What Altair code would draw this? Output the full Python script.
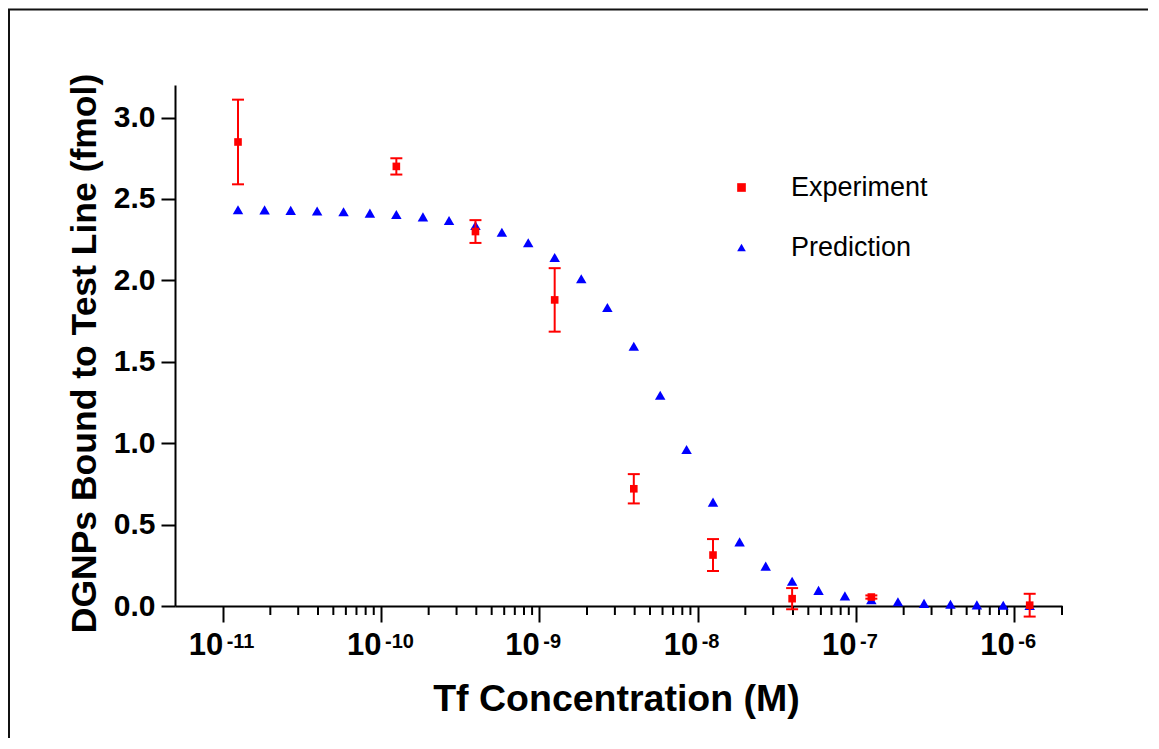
import altair as alt
import pandas as pd

# ---------------- data ----------------
pred_x = [1.25e-11, 1.84e-11, 2.69e-11, 3.95e-11, 5.80e-11, 8.51e-11,
          1.25e-10, 1.84e-10, 2.69e-10, 3.95e-10, 5.80e-10, 8.51e-10,
          1.25e-9, 1.84e-9, 2.69e-9, 3.95e-9, 5.80e-9, 8.51e-9,
          1.25e-8, 1.84e-8, 2.69e-8, 3.95e-8, 5.80e-8, 8.51e-8,
          1.25e-7, 1.84e-7, 2.69e-7, 3.95e-7, 5.80e-7, 8.51e-7,
          1.25e-6]
pred_y = [2.434, 2.433, 2.430, 2.426, 2.421, 2.413,
          2.405, 2.390, 2.368, 2.337, 2.296, 2.231,
          2.141, 2.010, 1.833, 1.595, 1.294, 0.961,
          0.638, 0.394, 0.245, 0.152, 0.096, 0.062,
          0.038, 0.026, 0.016, 0.011, 0.007, 0.005,
          0.003]

exp_x = [1.25e-11, 1.25e-10, 3.95e-10, 1.25e-9, 3.95e-9, 1.25e-8, 3.95e-8, 1.25e-7, 1.25e-6]
exp_y = [2.85, 2.70, 2.30, 1.88, 0.72, 0.313, 0.045, 0.055, 0.005]
exp_err = [0.26, 0.05, 0.07, 0.195, 0.09, 0.098, 0.065, 0.01, 0.07]

series_names = ["Experiment", "Prediction"]
series_colors = ["#ff0000", "#0000ff"]
series_shapes = ["square", "triangle-up"]

major_ticks = [1e-11, 1e-10, 1e-9, 1e-8, 1e-7, 1e-6]
major_exponents = ["-11", "-10", "-9", "-8", "-7", "-6"]
minor_mult = [2, 3, 4, 5, 6, 7, 8, 9]
minor_decades = [1e-11, 1e-10, 1e-9, 1e-8, 1e-7]
minor_ticks = [m * d for d in minor_decades for m in minor_mult] + [2e-6]

y_ticks = [0.0, 0.5, 1.0, 1.5, 2.0, 2.5, 3.0]

x_title = "Tf Concentration (M)"
y_title = "DGNPs Bound to Test Line (fmol)"

# ---------------- tables ----------------
pred_df = pd.DataFrame({"x": pred_x, "y": pred_y, "series": "Prediction"})
exp_df = pd.DataFrame({"x": exp_x, "y": exp_y, "err": exp_err, "series": "Experiment"})
exp_df["lo"] = exp_df["y"] - exp_df["err"]
exp_df["hi"] = exp_df["y"] + exp_df["err"]
minor_df = pd.DataFrame({"x": minor_ticks})
sup_df = pd.DataFrame({"x": major_ticks, "t": major_exponents})
one_df = pd.DataFrame({"k": [0]})

W, H = 887, 521
PAD_R = 86
FONT = "Liberation Sans"

xscale = alt.Scale(type="log", domain=[5e-12, 2e-6], nice=False)
yscale = alt.Scale(domain=[0, 3.2], nice=False, zero=False)

xaxis = alt.Axis(
    values=major_ticks, labelExpr="'10'", labelAlign="right",
    labelFontSize=31, labelFontWeight="bold", labelFont=FONT, labelColor="black",
    labelPadding=8, labelBaseline="top", labelOverlap=False, labelFlush=False,
    tickSize=16, tickWidth=2, tickColor="black", domainWidth=2, domainColor="black",
    grid=False, title=x_title, titleFont=FONT, titleFontSize=37.5, titleFontWeight="bold",
    titleColor="black", titleBaseline="alphabetic", titleY=104, titleX=441,
    titleAlign="center",
)
yaxis = alt.Axis(
    values=y_ticks, format=".1f", labelFontSize=30, labelFontWeight="bold",
    labelFont=FONT, labelColor="black", labelPadding=6,
    tickSize=14, tickWidth=2, tickColor="black", domainWidth=2, domainColor="black",
    grid=False, title=y_title, titleFont=FONT, titleFontSize=35.5, titleFontWeight="bold",
    titleColor="black", titleBaseline="alphabetic", titleAngle=270, titleX=-80,
    titleY=268, titleAlign="center",
)

X = alt.X("x:Q", scale=xscale, axis=xaxis)
Y = alt.Y("y:Q", scale=yscale, axis=yaxis)

legend = alt.Legend(
    title=None, orient="none", legendX=553, legendY=89, padding=0,
    labelFont=FONT, labelFontSize=27, labelColor="black", labelOffset=36,
    symbolSize=75, rowPadding=32, symbolStrokeWidth=0,
)
color = alt.Color("series:N", scale=alt.Scale(domain=series_names, range=series_colors), legend=legend)
shape = alt.Shape("series:N", scale=alt.Scale(domain=series_names, range=series_shapes), legend=legend)

minor = alt.Chart(minor_df).mark_rule(color="black", strokeWidth=2).encode(
    x=X, y=alt.value(H), y2=alt.value(H + 9)
)

pred = alt.Chart(pred_df).mark_point(filled=True, size=110, opacity=1, strokeWidth=0).encode(
    x=X, y=Y, color=color, shape=shape
)

bars = alt.Chart(exp_df).mark_rule(color="#ff0000", strokeWidth=2).encode(
    x=X, y=alt.Y("lo:Q", scale=yscale, axis=yaxis), y2="hi:Q"
)
cap_lo = alt.Chart(exp_df).mark_tick(color="#ff0000", orient="horizontal", size=12, thickness=2, opacity=1).encode(
    x=X, y=alt.Y("lo:Q", scale=yscale, axis=yaxis)
)
cap_hi = alt.Chart(exp_df).mark_tick(color="#ff0000", orient="horizontal", size=12, thickness=2, opacity=1).encode(
    x=X, y=alt.Y("hi:Q", scale=yscale, axis=yaxis)
)

expt = alt.Chart(exp_df).mark_point(filled=True, size=58, opacity=1, strokeWidth=0).encode(
    x=X, y=Y, color=color, shape=shape
)

sup = alt.Chart(sup_df).mark_text(
    align="left", baseline="top", dx=4, fontSize=20, fontWeight="bold", font=FONT, color="black"
).encode(x=X, y=alt.value(H + 26), text="t:N")

frame_left = alt.Chart(one_df).mark_rule(color="#111111", strokeWidth=2).encode(
    x=alt.value(-166), y=alt.value(-75.5), y2=alt.value(H + 140)
)
frame_top = alt.Chart(one_df).mark_rule(color="#111111", strokeWidth=2, strokeCap="butt").encode(
    x=alt.value(-167), x2=alt.value(W + PAD_R), y=alt.value(-75.5)
)

chart = alt.layer(
    frame_left, frame_top, minor, pred, bars, cap_lo, cap_hi, expt, sup
).properties(
    width=W, height=H,
    autosize=alt.AutoSizeParams(type="none"),
    padding={"left": 167, "top": 77, "right": PAD_R, "bottom": 132},
    background="white",
).configure_view(stroke=None)

chart.save("out.html", embed_options={"renderer": "svg", "actions": False})
